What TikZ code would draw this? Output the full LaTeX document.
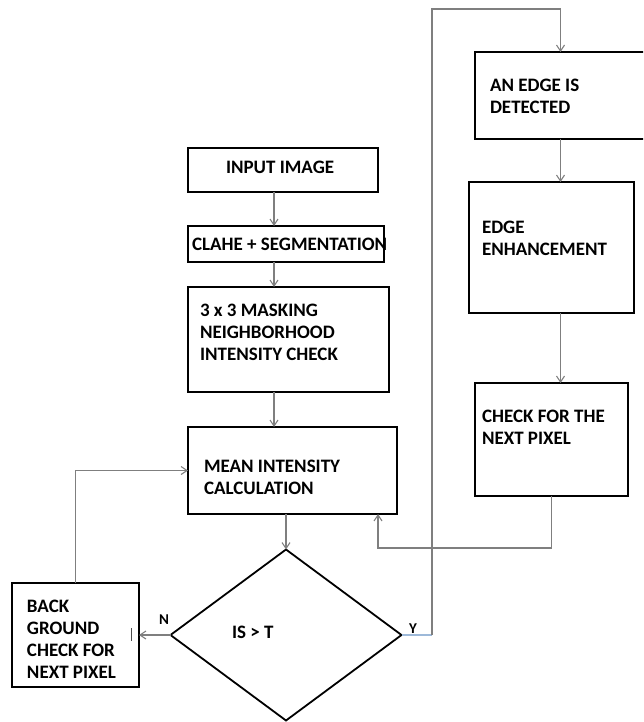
\documentclass[tikz,border=0pt]{standalone}
\usepackage{fontspec}
\setmainfont{Carlito}
\usetikzlibrary{arrows.meta,shapes.geometric}
\definecolor{ylink}{HTML}{9DB9D9}
\definecolor{connc}{HTML}{7F7F7F}
\newcommand\mlines[1]{\vtop{\halign{##\hfil\cr#1\crcr}}}
\begin{document}
\begin{tikzpicture}[x=1pt,y=-1pt,
  box/.style={draw=black, line width=2pt, rectangle, inner sep=0, outer sep=0, anchor=north west},
  lbl/.style={anchor=base west, inner sep=0, outer sep=0, font=\fontsize{19}{22}\selectfont\bfseries, text=black},
  yn/.style={lbl, font=\fontsize{15}{18}\selectfont\bfseries},
  conn/.style={draw=connc, line width=1.1pt},
  arr/.style={conn, -{Straight Barb[length=6pt,width=8pt]}}]
\clip (0,0) rectangle (643,722);
% boxes
\node[box, minimum width=190, minimum height=44] (in) at (188,148) {};
\node[box, minimum width=196, minimum height=36] (clahe) at (188,226) {};
\node[box, minimum width=201, minimum height=105] (mask) at (188,287) {};
\node[box, minimum width=209, minimum height=87] (mean) at (188,427) {};
\node[box, minimum width=171, minimum height=87] (edge) at (475,52) {};
\node[box, minimum width=165, minimum height=131] (enh) at (469,182) {};
\node[box, minimum width=153, minimum height=113] (chk) at (475,383) {};
\node[box, minimum width=127, minimum height=104] (back) at (12,583) {};
\node[diamond, draw=black, line width=1.8pt, minimum width=231, minimum height=171, aspect=1.35, inner sep=0, outer sep=0] (dec) at (286,635) {};
% texts
\node[lbl] (tin) at (226,174) {INPUT IMAGE};
\node[lbl] (tcl) at (192,250) {CLAHE + SEGMENTATION};
\node[lbl] (tmk) at (200,316) {\mlines{3 x 3 MASKING\cr NEIGHBORHOOD\cr INTENSITY CHECK}};
\node[lbl] (tmn) at (204,472) {\mlines{MEAN INTENSITY\cr CALCULATION}};
\node[lbl] (ted) at (490,92) {\mlines{AN EDGE IS\cr DETECTED}};
\node[lbl] (ten) at (482,233) {\mlines{EDGE\cr ENHANCEMENT}};
\node[lbl] (tck) at (482,422) {\mlines{CHECK FOR THE\cr NEXT PIXEL}};
\node[lbl] (tbk) at (27,612) {\mlines{BACK\cr GROUND\cr CHECK FOR\cr NEXT PIXEL}};
\node[lbl] (tis) at (232,638) {IS > T};
\node[yn] (tn) at (159,624) {N};
\node[yn] (ty) at (409,633) {Y};
% helper coordinates
\coordinate (ax) at (274,0);
\coordinate (ret) at (378,548);
\coordinate (yl) at (432,9);
% connectors
\draw[arr] (in.south -| ax) -- (clahe.north -| ax);
\draw[arr] (clahe.south -| ax) -- (mask.north -| ax);
\draw[arr] (mask.south -| ax) -- (mean.north -| ax);
\draw[arr] (dec.north |- mean.south) -- (dec.north);
\draw[arr] (dec.west) -- (back.east);
\draw[arr] (back.north) |- (mean.west);
\draw[conn, draw=ylink] (dec.east) -- (dec.east -| yl);
\draw[arr] (dec.east -| yl) -- (yl) -| (edge.north);
\draw[arr] (edge.south) -- (edge.south |- enh.north);
\draw[arr] (edge.south |- enh.south) -- (edge.south |- chk.north);
\draw[arr] (chk.south) |- (ret) -- (ret |- mean.south);
% stray mark inside the background box
\draw[line width=0.8pt, black!70] (131,628) -- (131,641);
\end{tikzpicture}
\end{document}
